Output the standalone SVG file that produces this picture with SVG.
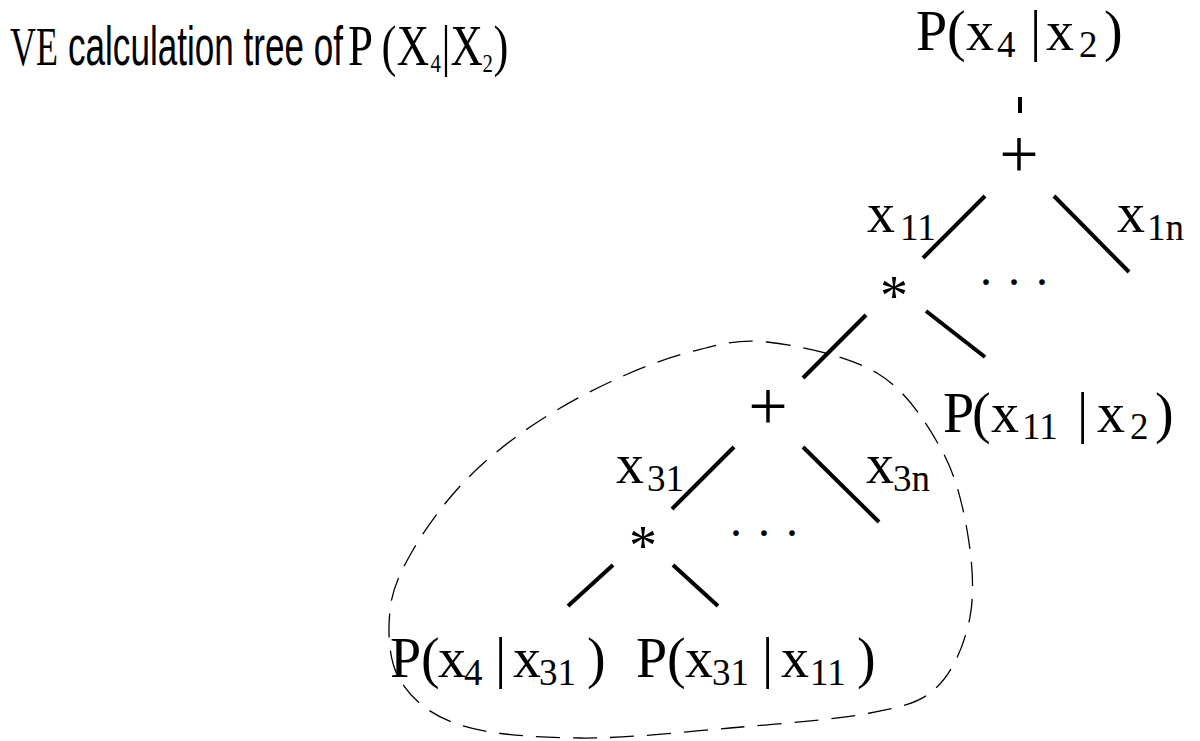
<svg xmlns="http://www.w3.org/2000/svg" width="1200" height="741" viewBox="0 0 1200 741">
<style>
  .m { font-family: "Liberation Serif", "DejaVu Serif", serif; font-size: 56px; fill: #000; }
  .s { font-size: 37px; }
  .op { font-family: "Liberation Serif", "DejaVu Serif", serif; fill: #000; text-anchor: middle; }
  .plus { font-size: 70px; }
  .ast { font-size: 56px; }
  .dots { font-size: 48px; }
  .edge { stroke: #000; stroke-width: 4; fill: none; }
  .blob { stroke: #000; stroke-width: 1.3; fill: none; stroke-dasharray: 24 13; }
</style>
<rect width="1200" height="741" fill="#fff"/>

<g id="title">
  <text x="10" y="65" font-family="Liberation Serif, serif" font-size="55" textLength="48" lengthAdjust="spacingAndGlyphs">VE</text>
  <text x="68" y="65" font-family="Liberation Sans, Arial, sans-serif" font-size="55" textLength="275" lengthAdjust="spacingAndGlyphs">calculation tree of</text>
  <g transform="translate(348,65) scale(0.8,1)">
    <text class="m" font-size="55"><tspan x="0" y="0">P</tspan><tspan x="42">(</tspan><tspan x="61">X</tspan><tspan x="103" y="7" font-size="26">4</tspan><tspan x="117" y="0">|</tspan><tspan x="128">X</tspan><tspan x="168" y="7" font-size="26">2</tspan><tspan x="182" y="0">)</tspan></text>
  </g>
</g>

<g id="connectors">
  <line class="edge" x1="1020" y1="97" x2="1020" y2="113"/>
  <line class="edge" x1="985" y1="196" x2="923" y2="258"/>
  <line class="edge" x1="1054" y1="196" x2="1129" y2="272"/>
  <line class="edge" x1="866" y1="315" x2="803" y2="378"/>
  <line class="edge" x1="926" y1="311" x2="985" y2="357"/>
  <line class="edge" x1="734" y1="447" x2="672" y2="509"/>
  <line class="edge" x1="803" y1="447" x2="879" y2="522"/>
  <line class="edge" x1="613" y1="565" x2="568" y2="606"/>
  <line class="edge" x1="673" y1="565" x2="718" y2="606"/>
</g>

<g id="edge-labels">
  <text class="m"><tspan x="867" y="232">x</tspan><tspan class="s" x="900" y="240">11</tspan></text>
  <text class="m"><tspan x="1117" y="232">x</tspan><tspan class="s" x="1147" y="240">1n</tspan></text>
  <text class="m"><tspan x="616" y="483">x</tspan><tspan class="s" x="647" y="491">31</tspan></text>
  <text class="m"><tspan x="866" y="483">x</tspan><tspan class="s" x="893" y="491">3n</tspan></text>
</g>

<g id="node-root">
  <text class="m"><tspan x="916" y="50">P</tspan><tspan x="947">(</tspan><tspan x="966">x</tspan><tspan class="s" x="997" y="57">4</tspan><tspan x="1030" y="50">|</tspan><tspan x="1046">x</tspan><tspan class="s" x="1079" y="57">2</tspan><tspan x="1104" y="50">)</tspan></text>
</g>

<g id="node-sum1">
  <text class="op plus" x="1019" y="177.5">+</text>
</g>

<g id="node-prod1">
  <text class="op ast" x="894" y="315">*</text>
</g>

<g id="node-dots1">
  <text class="op dots" x="1014" y="297.5">· · ·</text>
</g>

<g id="node-p-x11-x2">
  <text class="m"><tspan x="943" y="432">P</tspan><tspan x="972">(</tspan><tspan x="991">x</tspan><tspan class="s" x="1022" y="439">11</tspan><tspan x="1077" y="432">|</tspan><tspan x="1097">x</tspan><tspan class="s" x="1130" y="439">2</tspan><tspan x="1155" y="432">)</tspan></text>
</g>

<g id="node-sum2">
  <text class="op plus" x="768" y="429.5">+</text>
</g>

<g id="node-prod2">
  <text class="op ast" x="643" y="565">*</text>
</g>

<g id="node-dots2">
  <text class="op dots" x="764" y="548.5">· · ·</text>
</g>

<g id="node-p-x4-x31">
  <text class="m"><tspan x="390" y="677">P</tspan><tspan x="421">(</tspan><tspan x="438">x</tspan><tspan class="s" x="464" y="685">4</tspan><tspan x="495" y="677">|</tspan><tspan x="513">x</tspan><tspan class="s" x="539" y="685">31</tspan><tspan x="587" y="677">)</tspan></text>
</g>

<g id="node-p-x31-x11">
  <text class="m"><tspan x="636" y="677">P</tspan><tspan x="667">(</tspan><tspan x="685">x</tspan><tspan class="s" x="712" y="685">31</tspan><tspan x="762" y="677">|</tspan><tspan x="781">x</tspan><tspan class="s" x="810" y="685">11</tspan><tspan x="857" y="677">)</tspan></text>
</g>

<g id="subtree-boundary">
  <path class="blob" d="M767,342 C798,345.5 848,355.5 877,373 C906,390.5 925,420.8 940,447 C955,473.2 962,501.7 967,530 C972,558.3 975,590.8 970,617 C965,643.2 953.7,671 937,687 C920.3,703 904.5,706.2 870,713 C835.5,719.8 778.3,723.8 730,728 C681.7,732.2 625,738.5 580,738 C535,737.5 490,734.7 460,725 C430,715.3 411.7,699.2 400,680 C388.3,660.8 387.8,631.7 390,610 C392.2,588.3 400.8,571.2 413,550 C425.2,528.8 443.5,503.5 463,483 C482.5,462.5 505.5,443.8 530,427 C554.5,410.2 583.3,394.5 610,382 C636.7,369.5 663.8,358.7 690,352 C716.2,345.3 735.8,338.5 767,342 Z"/>
</g>
</svg>
